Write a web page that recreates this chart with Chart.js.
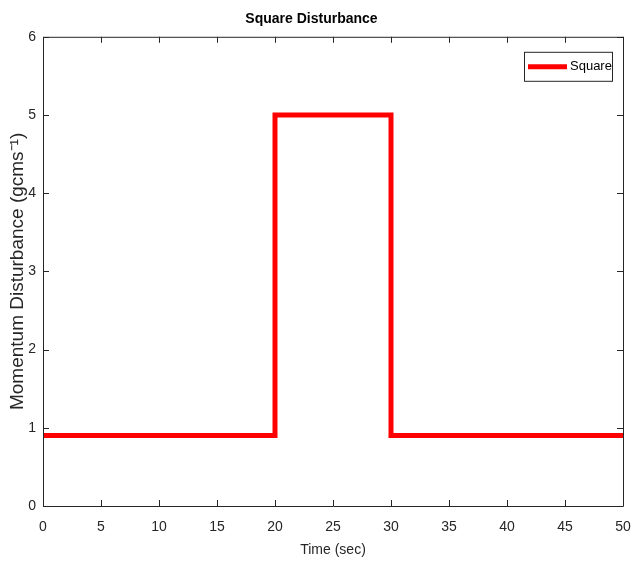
<!doctype html>
<html>
<head>
	<title>Square Disturbance</title>
	<script src="https://cdn.jsdelivr.net/npm/chart.js@4.4.0/dist/chart.umd.min.js"></script>
	<style>
		html, body { margin: 0; padding: 0; background: #fff; overflow: hidden; }
		#wrap { width: 631px; height: 566px; }
		canvas { display: block; }
	</style>
</head>
<body>
	<div id="wrap"><canvas id="canvas"></canvas></div>
	<script>
		// step signal
		var timeVals = [0, 20, 20, 30, 30, 50];
		var squareVals = [0.9, 0.9, 5, 5, 0.9, 0.9];
		var xTicks = [0, 5, 10, 15, 20, 25, 30, 35, 40, 45, 50];
		var yTicks = [0, 1, 2, 3, 4, 5, 6];

		var narrow = "'Liberation Sans Narrow', 'Liberation Sans', Arial, sans-serif";
		var axisColor = '#262626';

		var points = [];
		for (var i = 0; i < timeVals.length; i++) {
			points.push({ x: timeVals[i], y: squareVals[i] });
		}

		// matlab style box with inward ticks, plus the legend box
		var boxPlugin = {
			id: 'boxPlugin',
			afterDraw: function (chart) {
				var ctx = chart.ctx;
				var a = chart.chartArea;
				var xs = chart.scales.x, ys = chart.scales.y;
				ctx.save();
				ctx.strokeStyle = axisColor;
				ctx.lineWidth = 1;
				ctx.beginPath();
				ctx.rect(a.left + 0.5, a.top + 0.5, a.right - a.left, a.bottom - a.top);
				ctx.stroke();
				ctx.beginPath();
				xTicks.forEach(function (t) {
					var px = Math.round(xs.getPixelForValue(t)) + 0.5;
					ctx.moveTo(px, a.bottom); ctx.lineTo(px, a.bottom - 6);
					ctx.moveTo(px, a.top); ctx.lineTo(px, a.top + 6);
				});
				yTicks.forEach(function (t) {
					var py = Math.round(ys.getPixelForValue(t)) + 0.5;
					ctx.moveTo(a.left, py); ctx.lineTo(a.left + 6, py);
					ctx.moveTo(a.right, py); ctx.lineTo(a.right - 6, py);
				});
				ctx.stroke();

				// legend
				var ds = chart.data.datasets[0];
				var bx = a.right - 99, by = a.top + 15, bw = 88, bh = 29;
				ctx.fillStyle = '#fff';
				ctx.fillRect(bx, by, bw, bh);
				ctx.strokeStyle = axisColor;
				ctx.strokeRect(bx + 0.5, by + 0.5, bw, bh);
				ctx.strokeStyle = ds.borderColor;
				ctx.lineWidth = 5;
				ctx.beginPath();
				ctx.moveTo(bx + 4, by + 15);
				ctx.lineTo(bx + 43, by + 15);
				ctx.stroke();
				ctx.fillStyle = '#000';
				ctx.font = '13px ' + narrow;
				ctx.textBaseline = 'middle';
				ctx.fillText(ds.label, bx + 46, by + 15);
				ctx.restore();
			}
		};

		var config = {
			type: 'line',
			data: {
				datasets: [{
					label: 'Square',
					data: points,
					borderColor: '#ff0000',
					borderWidth: 5,
					pointRadius: 0,
					fill: false,
					tension: 0
				}]
			},
			options: {
				responsive: true,
				maintainAspectRatio: false,
				animation: false,
				layout: { padding: { top: 0, right: 8, bottom: 0, left: 0 } },
				plugins: {
					legend: { display: false },
					tooltip: { enabled: false },
					title: {
						display: true,
						text: 'Square Disturbance',
						color: '#000',
						font: { family: narrow, size: 14, weight: 'bold' },
						padding: { top: 11, bottom: 9 }
					}
				},
				scales: {
					x: {
						type: 'linear',
						min: 0, max: 50,
						grid: { display: false, drawTicks: false },
						border: { display: false },
						afterBuildTicks: function (s) { s.ticks = xTicks.map(function (v) { return { value: v }; }); },
						afterFit: function (s) { s.height = 60; s.paddingLeft = 0; s.paddingRight = 0; },
						ticks: { color: '#262626', padding: 13, maxRotation: 0, font: { family: narrow, size: 14 } },
						title: {
							display: true, text: 'Time (sec)', color: '#262626',
							font: { family: narrow, size: 14 },
							padding: { top: 0, bottom: 7 }
						}
					},
					y: {
						min: 0, max: 6,
						grid: { display: false, drawTicks: false },
						border: { display: false },
						afterBuildTicks: function (s) { s.ticks = yTicks.map(function (v) { return { value: v }; }); },
						afterFit: function (s) { s.width = 43; },
						ticks: { color: '#262626', padding: 7, font: { family: narrow, size: 14 } },
						title: {
							display: true, text: 'Momentum Disturbance (gcms\u207B\u00B9)', color: '#262626',
							font: { family: "'Liberation Sans', Arial, sans-serif", size: 19 },
							padding: { top: 6, bottom: 0 }
						}
					}
				}
			},
			plugins: [boxPlugin]
		};

		window.onload = function () {
			var ctx = document.getElementById('canvas').getContext('2d');
			window.myLine = new Chart(ctx, config);
		};
	</script>
</body>
</html>
